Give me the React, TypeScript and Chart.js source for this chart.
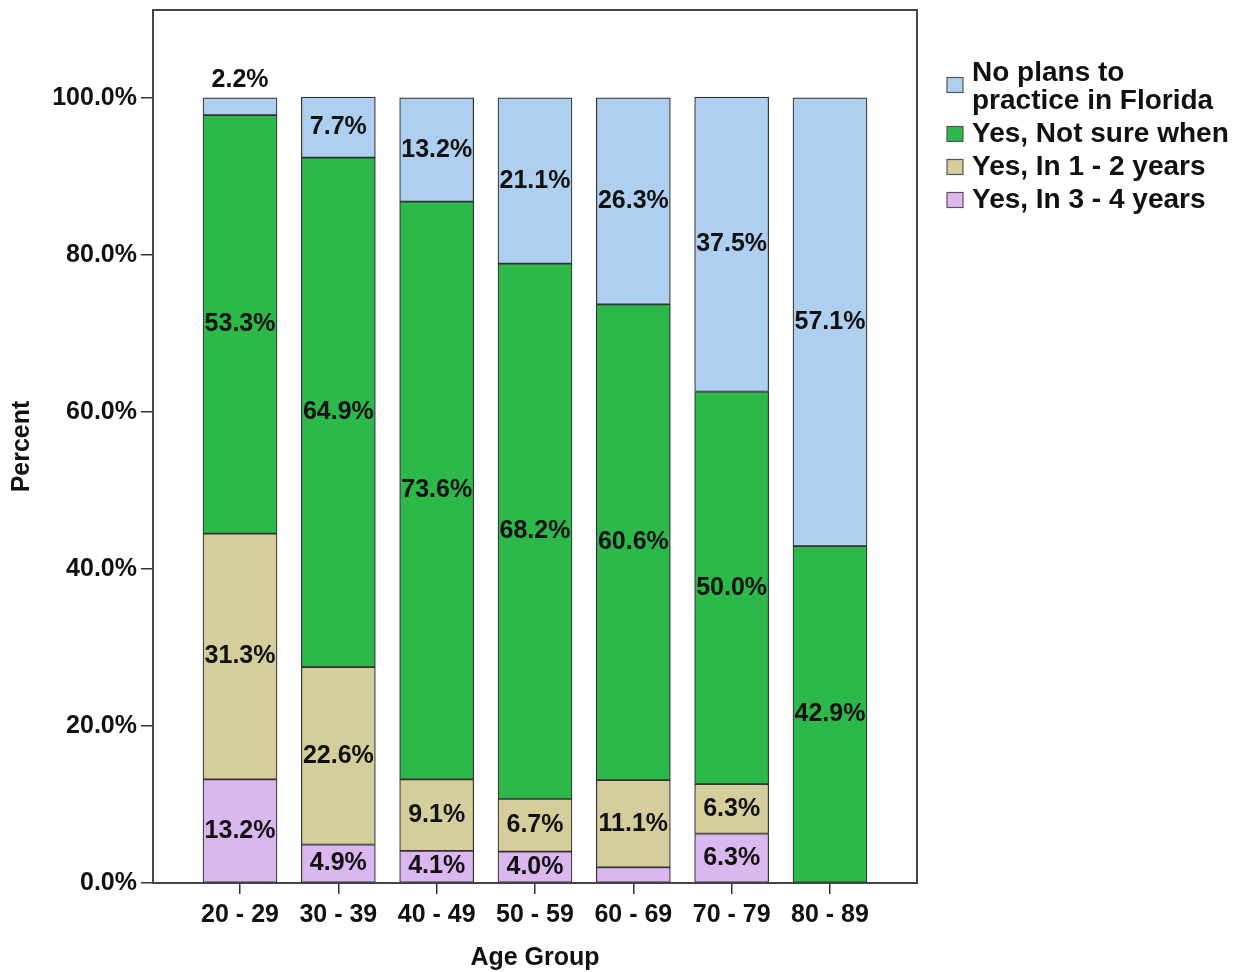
import React, { useEffect, useRef } from "react";
import { Chart, registerables } from "chart.js";

Chart.register(...registerables);

const AGE_GROUPS = ["20 - 29", "30 - 39", "40 - 49", "50 - 59", "60 - 69", "70 - 79", "80 - 89"];
const Y_TICKS = [0, 20, 40, 60, 80, 100];

const IN_3_4_YEARS = [13.2, 4.9, 4.1, 4.0, 2.0, 6.3, 0];
const IN_1_2_YEARS = [31.3, 22.6, 9.1, 6.7, 11.1, 6.3, 0];
const NOT_SURE_WHEN = [53.3, 64.9, 73.6, 68.2, 60.6, 50.0, 42.9];
const NO_PLANS = [2.2, 7.7, 13.2, 21.1, 26.3, 37.5, 57.1];

const LEGEND_LABELS = [
  ["No plans to", "practice in Florida"],
  ["Yes, Not sure when"],
  ["Yes, In 1 - 2 years"],
  ["Yes, In 3 - 4 years"],
];

const COLORS = {
  noPlans: "#aecff0",
  notSure: "#2db84a",
  in12: "#d5cd9b",
  in34: "#dbb7f0",
};

const FONT_FAMILY = "'Liberation Sans', Arial, sans-serif";
const TEXT_COLOR = "#111111";
const LINE_COLOR = "#333333";

export default function App() {
  const canvasRef = useRef<HTMLCanvasElement | null>(null);

  useEffect(() => {
    const canvas = canvasRef.current;
    if (!canvas) return;

    const mk = (label: string, data: number[], color: string) => ({
      label,
      data: data.map((v, i) => ({ x: i, y: v })),
      backgroundColor: color,
      borderColor: LINE_COLOR,
      borderWidth: 1.2,
      borderSkipped: false as const,
      barThickness: 74,
    });

    const datasets = [
      mk("Yes, In 3 - 4 years", IN_3_4_YEARS, COLORS.in34),
      mk("Yes, In 1 - 2 years", IN_1_2_YEARS, COLORS.in12),
      mk("Yes, Not sure when", NOT_SURE_WHEN, COLORS.notSure),
      mk("No plans to practice in Florida", NO_PLANS, COLORS.noPlans),
    ];
    const legendColors = [COLORS.noPlans, COLORS.notSure, COLORS.in12, COLORS.in34];

    const overlay = {
      id: "overlay",
      afterDatasetsDraw(chart: any) {
        const ctx = chart.ctx;
        const area = chart.chartArea;
        ctx.save();
        // data labels
        ctx.font = `bold 25px ${FONT_FAMILY}`;
        ctx.fillStyle = TEXT_COLOR;
        ctx.textAlign = "center";
        ctx.textBaseline = "middle";
        const topIndex = chart.data.datasets.length - 1;
        chart.data.datasets.forEach((ds: any, di: number) => {
          const meta = chart.getDatasetMeta(di);
          meta.data.forEach((bar: any, i: number) => {
            const v = ds.data[i].y;
            if (!v) return;
            const txt = v.toFixed(1) + "%";
            if (v < 3) {
              if (di === topIndex) ctx.fillText(txt, bar.x, Math.min(bar.y, bar.base) - 18);
              return;
            }
            ctx.fillText(txt, bar.x, (bar.y + bar.base) / 2);
          });
        });
        // frame
        ctx.strokeStyle = "#444444";
        ctx.lineWidth = 2;
        ctx.strokeRect(area.left, area.top, area.right - area.left, area.bottom - area.top);
        // axis titles
        ctx.font = `bold 25px ${FONT_FAMILY}`;
        ctx.fillStyle = TEXT_COLOR;
        ctx.textAlign = "center";
        ctx.textBaseline = "middle";
        ctx.fillText("Age Group", (area.left + area.right) / 2, 958);
        ctx.save();
        ctx.translate(22, (area.top + area.bottom) / 2);
        ctx.rotate(-Math.PI / 2);
        ctx.fillText("Percent", 0, 0);
        ctx.restore();
        // legend
        ctx.font = `bold 28px ${FONT_FAMILY}`;
        ctx.textAlign = "left";
        let y = 73;
        LEGEND_LABELS.forEach((lines, li) => {
          const boxCenter = lines.length > 1 ? y + 12 : y;
          ctx.fillStyle = legendColors[li];
          ctx.fillRect(947, boxCenter - 7.5, 16, 15);
          ctx.strokeStyle = "#555555";
          ctx.lineWidth = 1.2;
          ctx.strokeRect(947, boxCenter - 7.5, 16, 15);
          ctx.fillStyle = TEXT_COLOR;
          lines.forEach((ln, k) => {
            ctx.fillText(ln, 972, y + k * 28);
          });
          y += (lines.length - 1) * 28 + 33;
        });
        ctx.restore();
      },
    };

    const chart = new Chart(canvas, {
      type: "bar",
      data: { datasets: datasets as any },
      options: {
        animation: false,
        responsive: false,
        layout: { padding: { top: 10, right: 327, left: 0, bottom: 0 } },
        plugins: { legend: { display: false }, tooltip: { enabled: false } },
        scales: {
          x: {
            type: "linear",
            stacked: true,
            offset: false,
            min: -0.885,
            max: 6.885,
            afterBuildTicks: (s: any) => {
              s.ticks = AGE_GROUPS.map((_, i) => ({ value: i }));
            },
            afterFit: (s: any) => {
              s.height = 89;
              s.paddingLeft = 0;
              s.paddingRight = 0;
            },
            border: { display: false },
            grid: {
              offset: false,
              drawOnChartArea: false,
              drawTicks: true,
              tickLength: 11,
              color: LINE_COLOR,
              lineWidth: 1.5,
            },
            ticks: {
              autoSkip: false,
              maxRotation: 0,
              padding: 6,
              color: TEXT_COLOR,
              font: { family: FONT_FAMILY, size: 25, weight: "bold" },
              callback: (v: any) => AGE_GROUPS[Math.round(Number(v))] ?? "",
            },
          },
          y: {
            type: "linear",
            stacked: true,
            min: 0,
            max: 111.2,
            afterBuildTicks: (s: any) => {
              s.ticks = Y_TICKS.map((v) => ({ value: v }));
            },
            afterFit: (s: any) => {
              s.width = 153;
              s.paddingTop = 0;
              s.paddingBottom = 0;
            },
            border: { display: false },
            grid: {
              drawOnChartArea: false,
              drawTicks: true,
              tickLength: 12,
              color: LINE_COLOR,
              lineWidth: 1.5,
            },
            ticks: {
              padding: 4,
              color: TEXT_COLOR,
              font: { family: FONT_FAMILY, size: 25, weight: "bold" },
              callback: (v: any) => Number(v).toFixed(1) + "%",
            },
          },
        },
      },
      plugins: [overlay],
    });

    return () => chart.destroy();
  }, []);

  return (
    <div style={{ position: "absolute", left: 0, top: 0, width: 1244, height: 972, background: "#ffffff" }}>
      <canvas ref={canvasRef} width={1244} height={972} style={{ display: "block" }} />
    </div>
  );
}
